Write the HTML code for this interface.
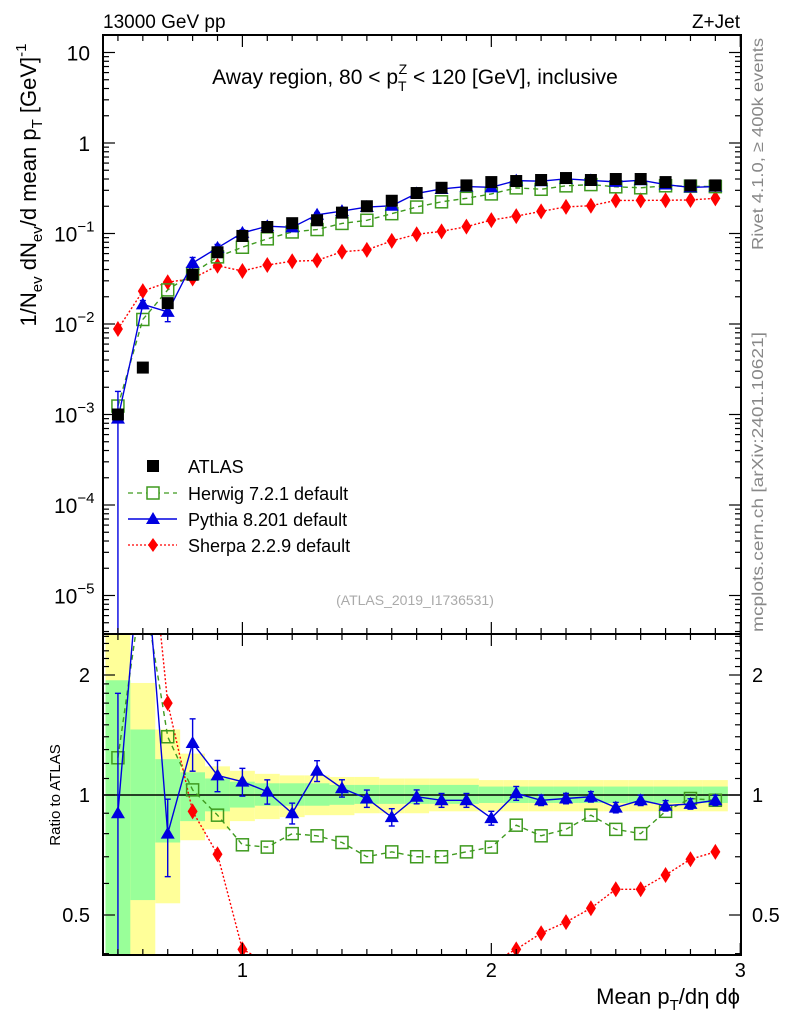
<!DOCTYPE html>
<html><head><meta charset="utf-8"><style>
html,body{margin:0;background:#fff;overflow:hidden;width:786px;height:1024px}
svg{display:block;font-family:"Liberation Sans",sans-serif;overflow:hidden}
</style></head><body>
<svg id="c" width="786" height="1024" viewBox="0 0 786 1024">
<text x="103" y="28" font-size="19">13000 GeV pp</text>
<text x="740" y="28" font-size="19" text-anchor="end">Z+Jet</text>
<text x="415" y="84" font-size="21" text-anchor="middle">Away region, 80 &lt; p<tspan font-size="14" dy="7">T</tspan><tspan font-size="14" dx="-8" dy="-17">Z</tspan><tspan dy="10"> &lt; 120 [GeV], inclusive</tspan></text>
<text x="415" y="605" font-size="14" fill="#aaa" text-anchor="middle">(ATLAS_2019_I1736531)</text>
<text transform="translate(763,250) rotate(-90)" font-size="16" fill="#888" textLength="212" lengthAdjust="spacingAndGlyphs">Rivet 4.1.0, ≥ 400k events</text>
<text transform="translate(763,632) rotate(-90)" font-size="16" fill="#888" textLength="300" lengthAdjust="spacingAndGlyphs">mcplots.cern.ch [arXiv:2401.10621]</text>
<text transform="translate(36,185) rotate(-90)" font-size="22" text-anchor="middle">1/N<tspan font-size="15" dy="6">ev</tspan><tspan dy="-6"> dN</tspan><tspan font-size="15" dy="6">ev</tspan><tspan dy="-6">/d mean p</tspan><tspan font-size="15" dy="6">T</tspan><tspan dy="-6"> [GeV]</tspan><tspan font-size="15" dy="-10">-1</tspan></text>
<text transform="translate(60,795) rotate(-90)" font-size="15" text-anchor="middle">Ratio to ATLAS</text>
<text x="740" y="1004" font-size="22" text-anchor="end">Mean p<tspan font-size="15" dy="6">T</tspan><tspan dy="-6">/dη dϕ</tspan></text>
<g>
<rect x="147" y="460" width="12" height="12" fill="#000"/>
<text x="188" y="473" font-size="18">ATLAS</text>
<line x1="128" y1="493" x2="177" y2="493" stroke="#3f9a1f" stroke-dasharray="5,4" stroke-width="1.3"/>
<rect x="147" y="487" width="12" height="12" fill="#fff" stroke="#3f9a1f" stroke-width="1.5"/>
<text x="188" y="500" font-size="18">Herwig 7.2.1 default</text>
<line x1="128" y1="519" x2="177" y2="519" stroke="#0000e0" stroke-width="1.5"/>
<path d="M153,512 L160,524 L146,524Z" fill="#0000e0"/>
<text x="188" y="526" font-size="18">Pythia 8.201 default</text>
<line x1="128" y1="545" x2="177" y2="545" stroke="#f00" stroke-dasharray="2,2" stroke-width="1.3"/>
<path d="M153,538 L158,545 L153,552 L148,545Z" fill="#f00"/>
<text x="188" y="552" font-size="18">Sherpa 2.2.9 default</text>
</g>
</svg>
<script>
const xs=[0.5,0.6,0.7,0.8,0.9,1.0,1.1,1.2,1.3,1.4,1.5,1.6,1.7,1.8,1.9,2.0,2.1,2.2,2.3,2.4,2.5,2.6,2.7,2.8,2.9];
const atlas=[0.001,0.0033,0.017,0.035,0.062,0.094,0.118,0.13,0.14,0.17,0.2,0.23,0.28,0.32,0.34,0.37,0.38,0.39,0.41,0.39,0.40,0.40,0.37,0.34,0.34];
const herwigRatio=[1.24,3.4,1.40,1.03,0.89,0.75,0.74,0.80,0.79,0.76,0.70,0.72,0.70,0.70,0.72,0.74,0.84,0.79,0.82,0.89,0.82,0.80,0.91,0.98,0.97];
const pythiaRatio=[0.90,5.0,0.80,1.35,1.12,1.08,1.02,0.90,1.15,1.04,0.98,0.88,0.99,0.97,0.97,0.875,1.01,0.97,0.98,0.99,0.93,0.97,0.94,0.95,0.97];
const pythiaErr=[0.999,0.1,0.22,0.15,0.09,0.08,0.07,0.06,0.06,0.05,0.05,0.05,0.04,0.04,0.04,0.04,0.04,0.03,0.03,0.03,0.03,0.03,0.03,0.03,0.03];
const sherpaRatio=[8.8,7.0,1.70,0.91,0.71,0.41,0.38,0.38,0.36,0.37,0.33,0.36,0.35,0.33,0.35,0.38,0.41,0.45,0.48,0.52,0.58,0.58,0.63,0.69,0.72];
const greenHi=[1.94,1.46,1.23,1.14,1.10,1.08,1.07,1.07,1.07,1.06,1.06,1.06,1.06,1.06,1.06,1.05,1.05,1.05,1.05,1.05,1.05,1.05,1.05,1.05,1.05];
const greenLo=[0.3,0.545,0.76,0.86,0.91,0.93,0.94,0.94,0.94,0.945,0.95,0.95,0.95,0.95,0.95,0.955,0.955,0.955,0.955,0.955,0.955,0.955,0.955,0.955,0.955];
const yellowHi=[3,1.91,1.46,1.27,1.18,1.15,1.13,1.12,1.12,1.11,1.11,1.10,1.10,1.10,1.10,1.09,1.09,1.09,1.09,1.09,1.09,1.09,1.09,1.09,1.09];
const yellowLo=[0.3,0.3,0.535,0.77,0.82,0.86,0.87,0.88,0.89,0.89,0.90,0.90,0.90,0.91,0.91,0.91,0.91,0.91,0.91,0.91,0.91,0.91,0.91,0.91,0.91];
const mainTicks=[10,1,0.1,0.01,0.001,0.0001,0.00001];
const mainTickLabels=["10","1","10^−1","10^−2","10^−3","10^−4","10^−5"];
const ratioTicks=[2,1,0.5];
const ratioTickLabels=["2","1","0.5"];
const xTicks=[1,2,3];

const NS="http://www.w3.org/2000/svg",svg=document.getElementById('c');
const L=103,R=741,T=35,M=634,B=955,XMIN=0.44,XMAX=3.003;
const X=v=>L+(v-XMIN)/(XMAX-XMIN)*(R-L);
const Ym=v=>143-90.5*Math.log10(v);
const Yr=v=>795-120*Math.log2(v);
function el(t,a,p){const e=document.createElementNS(NS,t);for(const k in a)e.setAttribute(k,a[k]);(p||svg).appendChild(e);return e;}
const gMainClip=el('clipPath',{id:'cm'});el('rect',{x:L,y:T,width:R-L,height:M-T},gMainClip);
const gRatClip=el('clipPath',{id:'cr'});el('rect',{x:L,y:M,width:R-L,height:B-M},gRatClip);
const bands=el('g',{'clip-path':'url(#cr)'});


xs.forEach((x,i)=>{
 const x0=X(x-0.05),x1=X(x+0.05);
 const y=el('rect',{x:x0,y:Yr(yellowHi[i]),width:x1-x0,height:Yr(yellowLo[i])-Yr(yellowHi[i]),fill:'#ffff99'},bands);
 
 
 const g=el('rect',{x:x0,y:Yr(greenHi[i]),width:x1-x0,height:Yr(greenLo[i])-Yr(greenHi[i]),fill:'#99ff99'},bands);
 
 
});
el('line',{x1:L,y1:Yr(1),x2:R,y2:Yr(1),stroke:'#000','stroke-width':1.5});
function series(vals,Y,clip,color,dash,marker,name,err){
 const g=el('g',{'clip-path':clip});
 
 
 const pl=el('polyline',{points:xs.map((x,i)=>X(x)+','+Y(vals[i])).join(' '),fill:'none',stroke:color,'stroke-width':1.4},g);
 if(dash)pl.setAttribute('stroke-dasharray',dash);
 xs.forEach((x,i)=>{
  const cx=X(x),cy=Y(vals[i]);
  if(err){const hi=Y(vals[i]*(1+err[i])),lo=Y(Math.max(vals[i]*(1-err[i]),1e-9));
   el('line',{x1:cx,y1:hi,x2:cx,y2:lo,stroke:color,'stroke-width':1.4},g);
   el('line',{x1:cx-3,y1:hi,x2:cx+3,y2:hi,stroke:color,'stroke-width':1.4},g);
   el('line',{x1:cx-3,y1:lo,x2:cx+3,y2:lo,stroke:color,'stroke-width':1.4},g);}
  let m;
  if(marker==='osq')m=el('rect',{x:cx-6,y:cy-6,width:12,height:12,fill:'none',stroke:color,'stroke-width':1.5},g);
  else if(marker==='tri')m=el('path',{d:`M${cx},${cy-7}L${cx+7},${cy+5}L${cx-7},${cy+5}Z`,fill:color},g);
  else m=el('path',{d:`M${cx},${cy-8}L${cx+5},${cy}L${cx},${cy+8}L${cx-5},${cy}Z`,fill:color},g);
  
  
 });
}
const herwig=atlas.map((a,i)=>a*herwigRatio[i]),pythia=atlas.map((a,i)=>a*pythiaRatio[i]),sherpa=atlas.map((a,i)=>a*sherpaRatio[i]);
series(sherpa,Ym,'url(#cm)','#f00','2,2','dia','sherpa-main');
series(herwig,Ym,'url(#cm)','#3f9a1f','5,4','osq','herwig-main');
series(pythia,Ym,'url(#cm)','#0000e0',null,'tri','pythia-main',pythiaErr);
const ag=el('g',{'clip-path':'url(#cm)'});


xs.forEach((x,i)=>{const r=el('rect',{x:X(x)-6,y:Ym(atlas[i])-6,width:12,height:12,fill:'#000'},ag);
 
 });
series(sherpaRatio,Yr,'url(#cr)','#f00','2,2','dia','sherpa-ratio');
series(herwigRatio,Yr,'url(#cr)','#3f9a1f','5,4','osq','herwig-ratio');
series(pythiaRatio,Yr,'url(#cr)','#0000e0',null,'tri','pythia-ratio',pythiaErr);
el('rect',{x:L,y:T,width:R-L,height:M-T,fill:'none',stroke:'#000','stroke-width':2});
el('rect',{x:L,y:M,width:R-L,height:B-M,fill:'none',stroke:'#000','stroke-width':2});
const tk=el('g',{stroke:'#000','stroke-width':1.2});
for(let v=5;v<=30;v++){const x=X(v/10);if(x<L||x>R)continue;const len=v%10===0?12:6;
 [[T,T+len],[M,M-len],[M,M+len],[B,B-len]].forEach(p=>el('line',{x1:x,y1:p[0],x2:x,y2:p[1]},tk));}
for(let d=-6;d<=1;d++)for(let k=1;k<10;k++){const v=k*Math.pow(10,d),y=Ym(v);if(y<T||y>M)continue;const len=k===1?12:6;
 el('line',{x1:L,y1:y,x2:L+len,y2:y},tk);el('line',{x1:R,y1:y,x2:R-len,y2:y},tk);}
[0.4,0.5,0.6,0.7,0.8,0.9,1,1.1,1.2,1.3,1.4,1.5,1.6,1.7,1.8,1.9,2,2.1,2.2,2.3,2.4,2.5].forEach(v=>{const y=Yr(v);if(y<M||y>B)return;const len=(v===1||v===2||v===0.5)?12:6;
 el('line',{x1:L,y1:y,x2:L+len,y2:y},tk);el('line',{x1:R,y1:y,x2:R-len,y2:y},tk);});
mainTicks.forEach((v,i)=>{const s=mainTickLabels[i].split('^');const t=el('text',{x:s.length===1?90:68,y:Ym(v)+8,'font-size':21,'text-anchor':'end'});
 
 
 t.textContent=s[0];
 if(s.length>1){t.setAttribute('text-anchor','start');t.setAttribute('x',54);const sp=el('tspan',{'font-size':15,dy:-10},t);sp.textContent=s[1];}});
ratioTicks.forEach((v,i)=>{[[90,'end'],[752,'start']].forEach(p=>{const t=el('text',{x:p[0],y:Yr(v)+7,'font-size':20,'text-anchor':p[1]});
 
 
 t.textContent=ratioTickLabels[i];});});
xTicks.forEach(v=>{const t=el('text',{x:X(v),y:977,'font-size':20,'text-anchor':'middle'});
 
 
 t.textContent=String(v);});
</script>
</body></html>
